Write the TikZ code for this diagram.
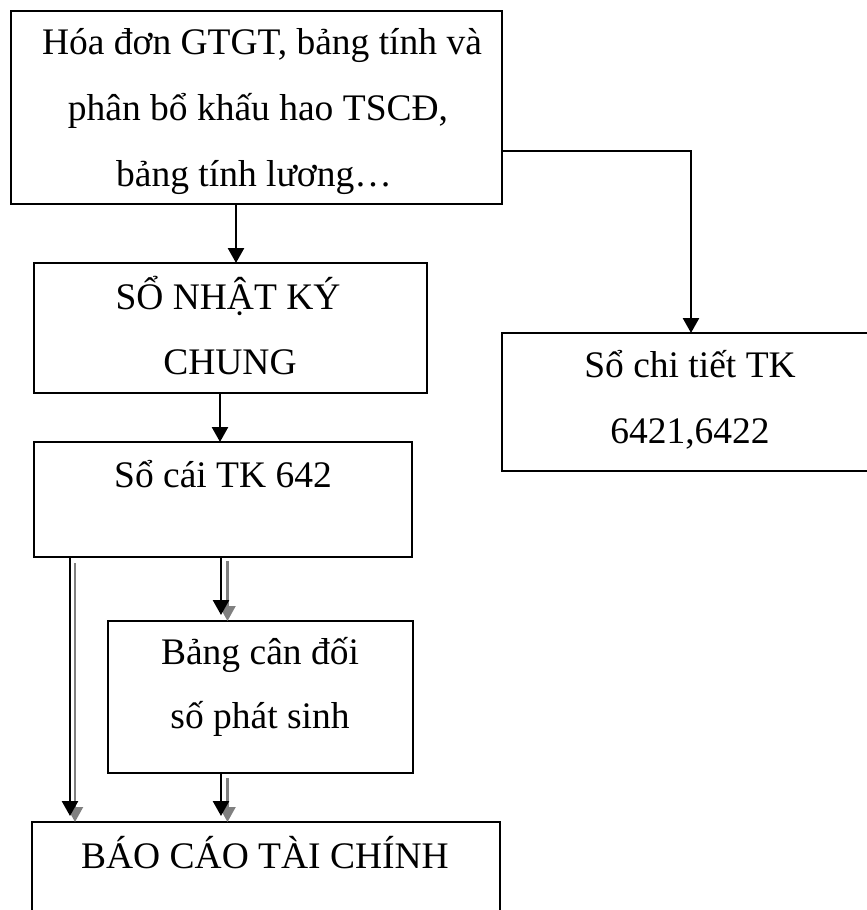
\documentclass[tikz,border=0pt]{standalone}
\usepackage{fontspec}
\setmainfont{Liberation Serif}
\usetikzlibrary{arrows.meta}
\definecolor{arrowgray}{HTML}{808080}
\begin{document}
\begin{tikzpicture}[x=1pt,y=-1pt,
  box/.style={draw=black, line width=2pt, anchor=north west, inner sep=0pt, outer sep=0pt},
  txt/.style={anchor=base, inner sep=0pt, font=\fontsize{37.5}{65}\selectfont},
  arr/.style={draw=black, line width=2.6pt, -{Triangle[width=16pt,length=15pt]}},
  garr/.style={draw=arrowgray, line width=2.2pt, -{Triangle[width=16pt,length=15pt]}},
]
\useasboundingbox (0,0) rectangle (867,910);
\clip (0,0) rectangle (867,910);

% boxes
\node[box, minimum width=491pt, minimum height=193pt] (b1) at (11,11) {};
\node[box, minimum width=393pt, minimum height=130pt] (b2) at (34,263) {};
\node[box, minimum width=378pt, minimum height=115pt] (b3) at (34,442) {};
\node[box, minimum width=378pt, minimum height=138pt] (b4) at (502,333) {};
\node[box, minimum width=305pt, minimum height=152pt] (b5) at (108,621) {};
\node[box, minimum width=468pt, minimum height=150pt] (b6) at (32,822) {};

% texts
\node[txt] (t1a) at (262,54) {Hóa đơn GTGT, bảng tính và};
\node[txt] (t1b) at (258,120) {phân bổ khấu hao TSCĐ,};
\node[txt] (t1c) at (254,186) {bảng tính lương…};
\node[txt] (t2a) at (228,309) {SỔ NHẬT KÝ};
\node[txt] (t2b) at (230,374) {CHUNG};
\node[txt] (t3) at (223,487) {Sổ cái TK 642};
\node[txt] (t4a) at (690,377) {Sổ chi tiết TK};
\node[txt] (t4b) at (690,443) {6421,6422};
\node[txt] (t5a) at (260,664) {Bảng cân đối};
\node[txt] (t5b) at (260,728) {số phát sinh};
\node[txt] (t6) at (265,868) {BÁO CÁO TÀI CHÍNH};

% single connectors
\draw[arr] ([xshift=-20.5pt]b1.south) coordinate (p1) -- (p1 |- b2.north);
\draw[arr] ([xshift=-10.5pt]b2.south) coordinate (p2) -- (p2 |- b3.north);
\draw[arr] ([yshift=-43.5pt]b1.east) -| (b4.north);

% double connectors: grey shadow line under a black line
\draw[garr] ([xshift=41pt,yshift=-6pt]b3.south west) coordinate (g1) -- (g1 |- b6.north);
\draw[arr, shorten >=6pt] ([xshift=36pt]b3.south west) coordinate (k1) -- (k1 |- b6.north);
\draw[garr] ([xshift=4.5pt,yshift=-4pt]b3.south) coordinate (g2) -- (g2 |- b5.north);
\draw[arr, shorten >=6pt] ([xshift=-2pt]b3.south) coordinate (k2) -- (k2 |- b5.north);
\draw[garr] ([xshift=-33pt,yshift=-5pt]b5.south) coordinate (g3) -- (g3 |- b6.north);
\draw[arr, shorten >=6pt] ([xshift=-39.5pt]b5.south) coordinate (k3) -- (k3 |- b6.north);
\end{tikzpicture}
\end{document}
